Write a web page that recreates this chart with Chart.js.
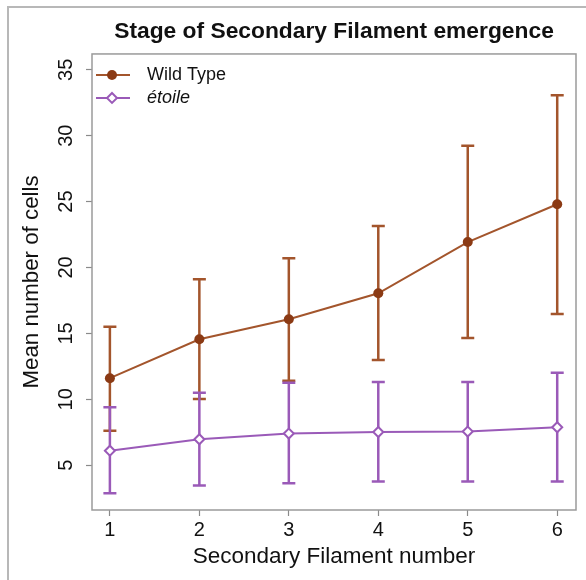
<!DOCTYPE html>
<html>
<head>
<meta charset="utf-8">
<script src="https://cdn.jsdelivr.net/npm/chart.js@4"></script>
<style>
  html, body { margin: 0; padding: 0; background: #fff; }
  #wrap { position: relative; width: 586px; height: 580px; }
  #frame { position: absolute; left: 7px; top: 6px; right: 0; bottom: 0;
           border-left: 2px solid #b8b8b8; border-top: 2px solid #b8b8b8; }
  canvas { position: absolute; left: 0; top: 0; }
</style>
</head>
<body>
<div id="wrap">
  <div id="frame"></div>
  <canvas id="chart" width="586" height="580"></canvas>
</div>
<script>
const filaments = [1, 2, 3, 4, 5, 6];
const wildType = [11.6, 14.55, 16.07, 18.04, 21.93, 24.8];
const wildTypeLow = [7.62, 10.03, 11.4, 12.98, 14.65, 16.47];
const wildTypeHigh = [15.5, 19.1, 20.7, 23.14, 29.23, 33.07];
const etoile = [6.1, 6.97, 7.4, 7.52, 7.55, 7.88];
const etoileLow = [2.88, 3.45, 3.63, 3.76, 3.76, 3.76];
const etoileHigh = [9.4, 10.5, 11.26, 11.31, 11.31, 12.02];
const yTicks = [5, 10, 15, 20, 25, 30, 35];

const brown = '#a3552c';
const brownDark = '#8b3a14';
const purple = '#9a5ab8';
const font = 'Liberation Sans, Arial, Helvetica, sans-serif';

const errorBars = {
    id: 'errorBars',
    beforeDatasetsDraw(chart) {
        const ctx = chart.ctx;
        const xs = chart.scales.x, ys = chart.scales.y;
        const sets = [[wildTypeLow, wildTypeHigh, brown], [etoileLow, etoileHigh, purple]];
        ctx.save();
        ctx.lineWidth = 2.5;
        sets.forEach(([lo, hi, col]) => {
            ctx.strokeStyle = col;
            filaments.forEach((f, i) => {
                const x = xs.getPixelForValue(f);
                const y1 = ys.getPixelForValue(lo[i]);
                const y2 = ys.getPixelForValue(hi[i]);
                ctx.beginPath();
                ctx.moveTo(x, y1); ctx.lineTo(x, y2);
                ctx.moveTo(x - 6.5, y1); ctx.lineTo(x + 6.5, y1);
                ctx.moveTo(x - 6.5, y2); ctx.lineTo(x + 6.5, y2);
                ctx.stroke();
            });
        });
        ctx.restore();
    }
};

// box around the plot + legend in the top-left corner
const boxAndLegend = {
    id: 'boxAndLegend',
    beforeDatasetsDraw(chart) {
        const {ctx, chartArea: a} = chart;
        ctx.save();
        ctx.strokeStyle = '#9a9a9a';
        ctx.lineWidth = 1.5;
        ctx.strokeRect(a.left, a.top, a.right - a.left, a.bottom - a.top);
        ctx.restore();
    },
    afterDatasetsDraw(chart) {
        const {ctx, chartArea: a} = chart;
        const items = [
            {text: 'Wild Type', col: brown, italic: false, dy: 21},
            {text: 'étoile', col: purple, italic: true, dy: 44}
        ];
        ctx.save();
        items.forEach((it) => {
            const y = a.top + it.dy;
            const x0 = a.left + 4, x1 = a.left + 38, xm = a.left + 20;
            ctx.strokeStyle = it.col;
            ctx.lineWidth = 2;
            ctx.beginPath(); ctx.moveTo(x0, y); ctx.lineTo(x1, y); ctx.stroke();
            if (it.italic) {
                ctx.fillStyle = '#fff';
                ctx.beginPath();
                ctx.moveTo(xm, y - 5); ctx.lineTo(xm + 5, y); ctx.lineTo(xm, y + 5); ctx.lineTo(xm - 5, y);
                ctx.closePath(); ctx.fill(); ctx.stroke();
            } else {
                ctx.fillStyle = brownDark;
                ctx.beginPath(); ctx.arc(xm, y, 5, 0, Math.PI * 2); ctx.fill();
            }
            ctx.fillStyle = '#111';
            ctx.font = (it.italic ? 'italic ' : '') + '18px ' + font;
            ctx.textBaseline = 'middle';
            ctx.fillText(it.text, a.left + 55, y);
        });
        ctx.restore();
    }
};

new Chart(document.getElementById('chart'), {
    type: 'line',
    data: {
        datasets: [{
            label: 'Wild Type',
            data: filaments.map((f, i) => ({x: f, y: wildType[i]})),
            borderColor: brown,
            borderWidth: 2,
            pointStyle: 'circle',
            pointRadius: 5,
            pointBackgroundColor: brownDark,
            pointBorderColor: brownDark,
            pointBorderWidth: 0
        }, {
            label: 'étoile',
            data: filaments.map((f, i) => ({x: f, y: etoile[i]})),
            borderColor: purple,
            borderWidth: 2,
            pointStyle: 'rectRot',
            pointRadius: 5,
            pointBackgroundColor: '#fff',
            pointBorderColor: purple,
            pointBorderWidth: 2
        }]
    },
    options: {
        responsive: false,
        animation: false,
        layout: {padding: {left: 0, right: 10, top: 0, bottom: 0}},
        plugins: {
            legend: {display: false},
            tooltip: {enabled: false},
            title: {
                display: true,
                fullSize: false,
                text: 'Stage of Secondary Filament emergence',
                color: '#111',
                font: {family: font, size: 22.8, weight: 'bold', lineHeight: 1.2},
                padding: {top: 18, bottom: 8.6}
            }
        },
        scales: {
            x: {
                type: 'linear',
                min: 0.8,
                max: 6.21,
                afterBuildTicks: (s) => { s.ticks = filaments.map(v => ({value: v})); },
                afterFit: (s) => { s.height = 70; },
                border: {display: false},
                grid: {drawOnChartArea: false, tickLength: 6, color: '#8a8a8a', tickWidth: 1.2},
                ticks: {color: '#111', font: {family: font, size: 20}, padding: 2, autoSkip: false, maxRotation: 0},
                title: {display: true, text: 'Secondary Filament number', color: '#111',
                        font: {family: font, size: 22.5, lineHeight: 1.2}, padding: {top: 0, bottom: 10}}
            },
            y: {
                type: 'linear',
                min: 1.6,
                max: 36.2,
                afterBuildTicks: (s) => { s.ticks = yTicks.map(v => ({value: v})); },
                afterFit: (s) => { s.width = 92; },
                border: {display: false},
                grid: {drawOnChartArea: false, tickLength: 6, color: '#8a8a8a', tickWidth: 1.2},
                ticks: {color: '#111', font: {family: font, size: 20}, padding: 8, autoSkip: false,
                        minRotation: 90, maxRotation: 90, crossAlign: 'center'},
                title: {display: true, text: 'Mean number of cells', color: '#111',
                        font: {family: font, size: 22.3, lineHeight: 1.2}, padding: {top: 18.5, bottom: 0}}
            }
        }
    },
    plugins: [errorBars, boxAndLegend]
});
</script>
</body>
</html>
